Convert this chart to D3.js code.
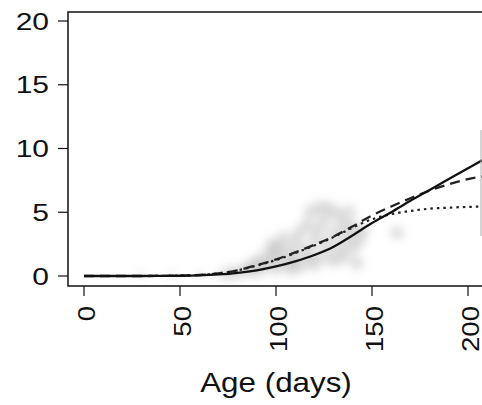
<!DOCTYPE html>
<html>
<head>
<meta charset="utf-8">
<script src="https://cdn.jsdelivr.net/npm/d3@7"></script>
<style>
  body { margin: 0; background: #fff; }
  text { font-family: "Liberation Sans", Arial, sans-serif; fill: #111; }
</style>
</head>
<body>
<script>
// Curve data (age in days, value)
var days = [0, 10, 20, 30, 40, 50, 60, 70, 80, 90, 100, 110, 120, 130, 140, 150, 160, 170, 180, 190, 200, 210];
var solidVals  = [0, 0, 0, 0, 0.01, 0.02, 0.05, 0.12, 0.25, 0.45, 0.75, 1.15, 1.65, 2.3, 3.2, 4.15, 5.0, 5.9, 6.75, 7.6, 8.45, 9.3];
var dashedVals = [0, 0, 0, 0, 0.01, 0.03, 0.08, 0.2, 0.45, 0.85, 1.3, 1.85, 2.45, 3.1, 3.9, 4.75, 5.45, 6.1, 6.7, 7.2, 7.6, 7.85];
var dottedVals = [0, 0, 0, 0, 0.01, 0.03, 0.08, 0.2, 0.44, 0.82, 1.25, 1.8, 2.4, 3.05, 3.8, 4.45, 4.85, 5.1, 5.28, 5.36, 5.42, 5.45];

// Grey observation cloud
var cloudDays = [30, 45, 60, 70, 75, 80, 85, 88, 90, 92, 95, 97, 98, 100, 100, 102, 104, 105, 107, 108, 110, 110, 112, 113,
                 115, 116, 118, 118, 120, 120, 122, 123, 125, 125, 127, 128, 130, 130, 132, 133, 135, 135, 137, 138, 140, 140,
                 142, 143, 145, 163];
var cloudVals = [0.05, 0.05, 0.08, 0.1, 0.2, 0.3, 0.5, 0.9, 0.4, 1.3, 0.8, 1.8, 2.5, 0.6, 1.5, 2.2, 3.0, 1.0, 1.8, 0.5, 2.6, 1.2,
                 3.4, 0.8, 2.0, 4.0, 1.5, 5.0, 2.8, 0.9, 3.6, 5.4, 1.6, 4.4, 2.5, 5.3, 3.4, 1.2, 4.8, 2.2, 4.0, 1.5, 3.0, 5.0,
                 2.2, 3.8, 1.0, 2.8, 3.5, 3.4];

var xTicks = [0, 50, 100, 150, 200];
var yTicks = [0, 5, 10, 15, 20];

var W = 482, H = 405;
var box = {left: 68, top: 12, bottom: 286, right: 500};

var x = d3.scaleLinear().domain([0, 200]).range([84, 468]);
var y = d3.scaleLinear().domain([0, 20]).range([276, 21]);

var svg = d3.select('body').append('svg')
  .attr('width', W)
  .attr('height', H);

var defs = svg.append('defs');
defs.append('filter').attr('id', 'blur')
  .attr('x', '-50%').attr('y', '-50%').attr('width', '200%').attr('height', '200%')
  .append('feGaussianBlur').attr('stdDeviation', 4.5);
defs.append('clipPath').attr('id', 'clip')
  .append('rect')
  .attr('x', box.left).attr('y', box.top)
  .attr('width', box.right - box.left).attr('height', box.bottom - box.top);

var plot = svg.append('g').attr('clip-path', 'url(#clip)');

// cloud
plot.append('g')
  .attr('filter', 'url(#blur)')
  .selectAll('circle')
  .data(cloudDays)
  .enter()
  .append('circle')
    .attr('cx', function(d){ return x(d); })
    .attr('cy', function(d, i){ return y(cloudVals[i]); })
    .attr('r', function(d){ return d < 75 ? 4 : 7; })
    .style('fill', '#9a9a9a')
    .style('fill-opacity', function(d){ return d < 75 ? 0.2 : 0.32; });

// curves
var line = d3.line()
  .x(function(d){ return x(d[0]); })
  .y(function(d){ return y(d[1]); })
  .curve(d3.curveMonotoneX);

function pairs(vals){ return days.map(function(d, i){ return [d, vals[i]]; }); }

plot.append('path')
  .attr('d', line(pairs(dottedVals)))
  .style('fill', 'none').style('stroke', '#222')
  .style('stroke-width', 2.2).style('stroke-dasharray', '2.5,4');

plot.append('path')
  .attr('d', line(pairs(dashedVals)))
  .style('fill', 'none').style('stroke', '#222')
  .style('stroke-width', 2.3).style('stroke-dasharray', '10,6');

plot.append('path')
  .attr('d', line(pairs(solidVals)))
  .style('fill', 'none').style('stroke', '#111')
  .style('stroke-width', 2.3);

// box
svg.append('rect')
  .attr('x', box.left).attr('y', box.top)
  .attr('width', box.right - box.left).attr('height', box.bottom - box.top)
  .style('fill', 'none').style('stroke', '#111').style('stroke-width', 1.5);

// faint edge on the far right
svg.append('line')
  .attr('x1', 481).attr('x2', 481).attr('y1', 130).attr('y2', 236)
  .style('stroke', '#aaa').style('stroke-width', 1);

// y axis
var yAxis = svg.append('g');
yAxis.selectAll('line')
  .data(yTicks)
  .enter()
  .append('line')
    .attr('x1', 58).attr('x2', box.left)
    .attr('y1', function(d){ return y(d); })
    .attr('y2', function(d){ return y(d); })
    .style('stroke', '#111').style('stroke-width', 1.2);

yAxis.selectAll('text')
  .data(yTicks)
  .enter()
  .append('text')
    .attr('transform', function(d){ return 'translate(49,' + y(d) + ') scale(1.25,1)'; })
    .attr('dy', '0.36em')
    .style('text-anchor', 'end')
    .style('font-size', '24px')
    .text(function(d){ return d; });

// x axis
var xAxis = svg.append('g');
xAxis.selectAll('line')
  .data(xTicks)
  .enter()
  .append('line')
    .attr('x1', function(d){ return x(d); })
    .attr('x2', function(d){ return x(d); })
    .attr('y1', box.bottom).attr('y2', 296)
    .style('stroke', '#111').style('stroke-width', 1.2);

xAxis.selectAll('text')
  .data(xTicks)
  .enter()
  .append('text')
    .attr('transform', function(d){ return 'translate(' + (x(d) + 2) + ',306) rotate(-90) scale(1.15,1)'; })
    .attr('dy', '0.36em')
    .style('text-anchor', 'end')
    .style('font-size', '24px')
    .text(function(d){ return d; });

svg.append('text')
  .attr('transform', 'translate(276,392) scale(1.12,1)')
  .style('text-anchor', 'middle')
  .style('font-size', '28px')
  .text('Age (days)');
</script>
</body>
</html>
